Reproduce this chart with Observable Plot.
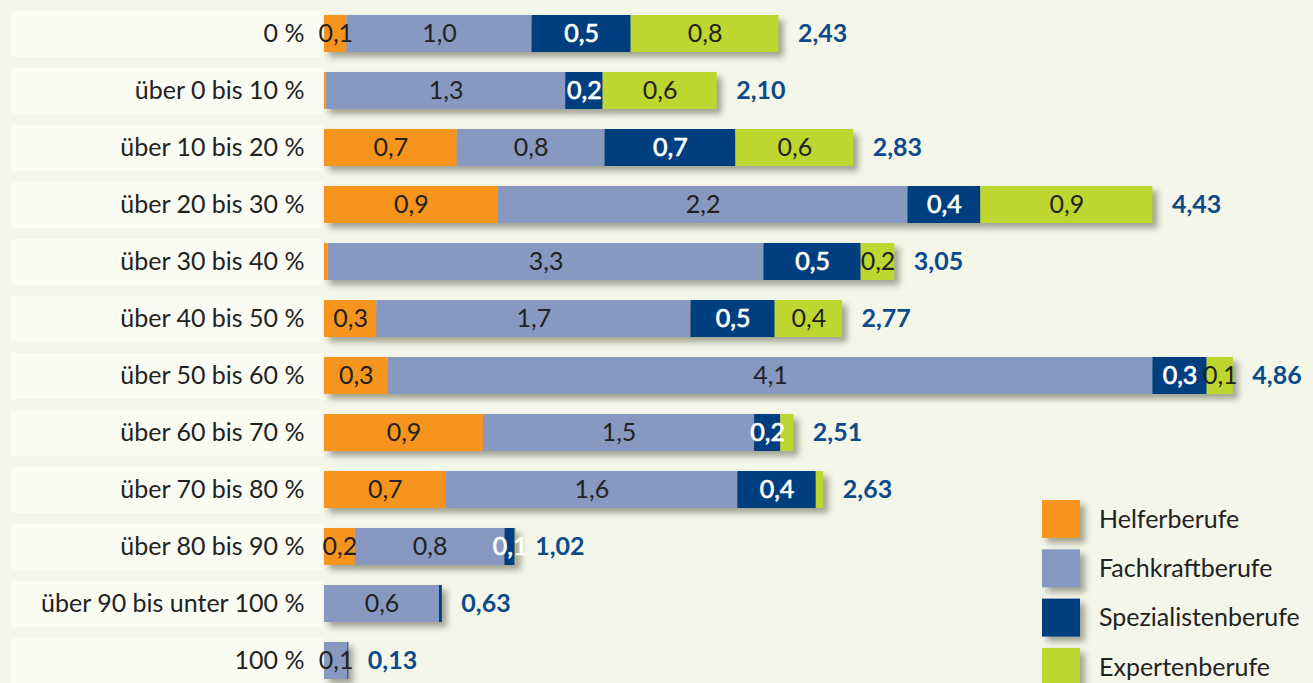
<!DOCTYPE html>
<html><head><meta charset="utf-8">
<script src="https://cdn.jsdelivr.net/npm/d3@7"></script>
<script src="https://cdn.jsdelivr.net/npm/@observablehq/plot@0.6"></script>
<style>
html,body{margin:0;padding:0;background:#f4f6e9;overflow:hidden;}
#chart svg{display:block;}
g[aria-label="bar"]{filter:drop-shadow(5px 5px 3px rgba(60,60,40,0.45));}
.legend-sq{filter:drop-shadow(5px 5px 3px rgba(60,60,40,0.45));}
</style></head><body><div id="chart"></div>
<script>
const categories = ["0 %","über 0 bis 10 %","über 10 bis 20 %","über 20 bis 30 %","über 30 bis 40 %","über 40 bis 50 %","über 50 bis 60 %","über 60 bis 70 %","über 70 bis 80 %","über 80 bis 90 %","über 90 bis unter 100 %","100 %"];
const series = ["Helferberufe","Fachkraftberufe","Spezialistenberufe","Expertenberufe"];
const colors = ["#f7941d","#8799c1","#003f7f","#bdd630"];

const helfer       = [0.12, 0.01, 0.71, 0.93, 0.02, 0.28, 0.34, 0.85, 0.65, 0.165, 0, 0];
const fachkraft    = [0.99, 1.28, 0.79, 2.19, 2.33, 1.68, 4.09, 1.45, 1.56, 0.80, 0.615, 0.125];
const spezialisten = [0.53, 0.20, 0.70, 0.39, 0.52, 0.45, 0.29, 0.14, 0.42, 0.055, 0.015, 0.005];
const experten     = [0.79, 0.61, 0.63, 0.92, 0.18, 0.36, 0.14, 0.07, 0.04, 0.005, 0, 0];

const helferLabels       = ["0,1","","0,7","0,9","","0,3","0,3","0,9","0,7","0,2","",""];
const fachkraftLabels    = ["1,0","1,3","0,8","2,2","3,3","1,7","4,1","1,5","1,6","0,8","0,6","0,1"];
const spezialistenLabels = ["0,5","0,2","0,7","0,4","0,5","0,5","0,3","0,2","0,4","0,1","",""];
const expertenLabels     = ["0,8","0,6","0,6","0,9","0,2","0,4","0,1","","","","",""];

const totals = [2.43, 2.10, 2.83, 4.43, 3.05, 2.77, 4.86, 2.51, 2.63, 1.02, 0.63, 0.13];

const valueSets = [helfer, fachkraft, spezialisten, experten];
const labelSets = [helferLabels, fachkraftLabels, spezialistenLabels, expertenLabels];
const data = [];
categories.forEach((c, i) => series.forEach((s, j) => data.push({category: c, series: s, value: valueSets[j][i], label: labelSets[j][i]})));
const totalRows = categories.map((c, i) => ({category: c, total: totals[i], end: d3.sum(valueSets, v => v[i])}));
const fmt2 = v => v.toFixed(2).replace(".", ",");
const SPEZ = "Spezialistenberufe";
const FONT = "Lato, 'Open Sans', sans-serif";

function labelBoxes(index, scales, values, dimensions) {
  const g = d3.create("svg:g");
  const y = scales.y;
  for (const c of categories) {
    g.append("rect")
      .attr("x", 11).attr("width", dimensions.marginLeft - 12)
      .attr("y", y(c) + 6).attr("height", 46)
      .attr("fill", "#fafbf3");
  }
  return g.node();
}

function legend(index, scales, values, dimensions) {
  const g = d3.create("svg:g").attr("font-family", FONT).attr("text-anchor", "start");
  series.forEach((s, i) => {
    const yy = 500 + i * 49.3;
    g.append("rect").attr("class", "legend-sq").attr("x", 1042).attr("y", yy).attr("width", 38).attr("height", 38).attr("fill", colors[i]);
    g.append("text").attr("x", 1099).attr("y", yy + 19).attr("dy", "0.35em").attr("font-size", 25).attr("fill", "#222").text(s);
  });
  return g.node();
}

const plot = Plot.plot({
  width: 1313, height: 683,
  marginLeft: 324, marginRight: 0, marginTop: 5, marginBottom: 0,
  x: {domain: [0, 989 / 187], axis: null},
  y: {domain: categories, axis: null, padding: 0, range: [5, 689]},
  color: {domain: series, range: colors},
  style: {background: "transparent", fontFamily: FONT, overflow: "hidden"},
  marks: [
    labelBoxes,
    Plot.text(categories, {x: () => 0, y: d => d, text: d => d, textAnchor: "end", dx: -20, fontSize: 25, fill: "#222"}),
    Plot.barX(data, Plot.stackX({x: "value", y: "category", z: "series", fill: "series", insetTop: 10, insetBottom: 10})),
    Plot.text(data, Plot.stackX({x: "value", y: "category", z: "series", text: d => d.series === SPEZ ? "" : d.label, fill: "#222", fontSize: 25})),
    Plot.text(data, Plot.stackX({x: "value", y: "category", z: "series", text: d => d.series === SPEZ ? d.label : "", fill: "white", stroke: "white", strokeWidth: 0.7, fontSize: 25})),
    Plot.text(totalRows, {x: "end", y: "category", text: d => fmt2(d.total), textAnchor: "start", dx: 19, fill: "#0d4a8a", fontWeight: "bold", fontSize: 25}),
    legend
  ]
});
document.getElementById("chart").appendChild(plot);
</script></body></html>
